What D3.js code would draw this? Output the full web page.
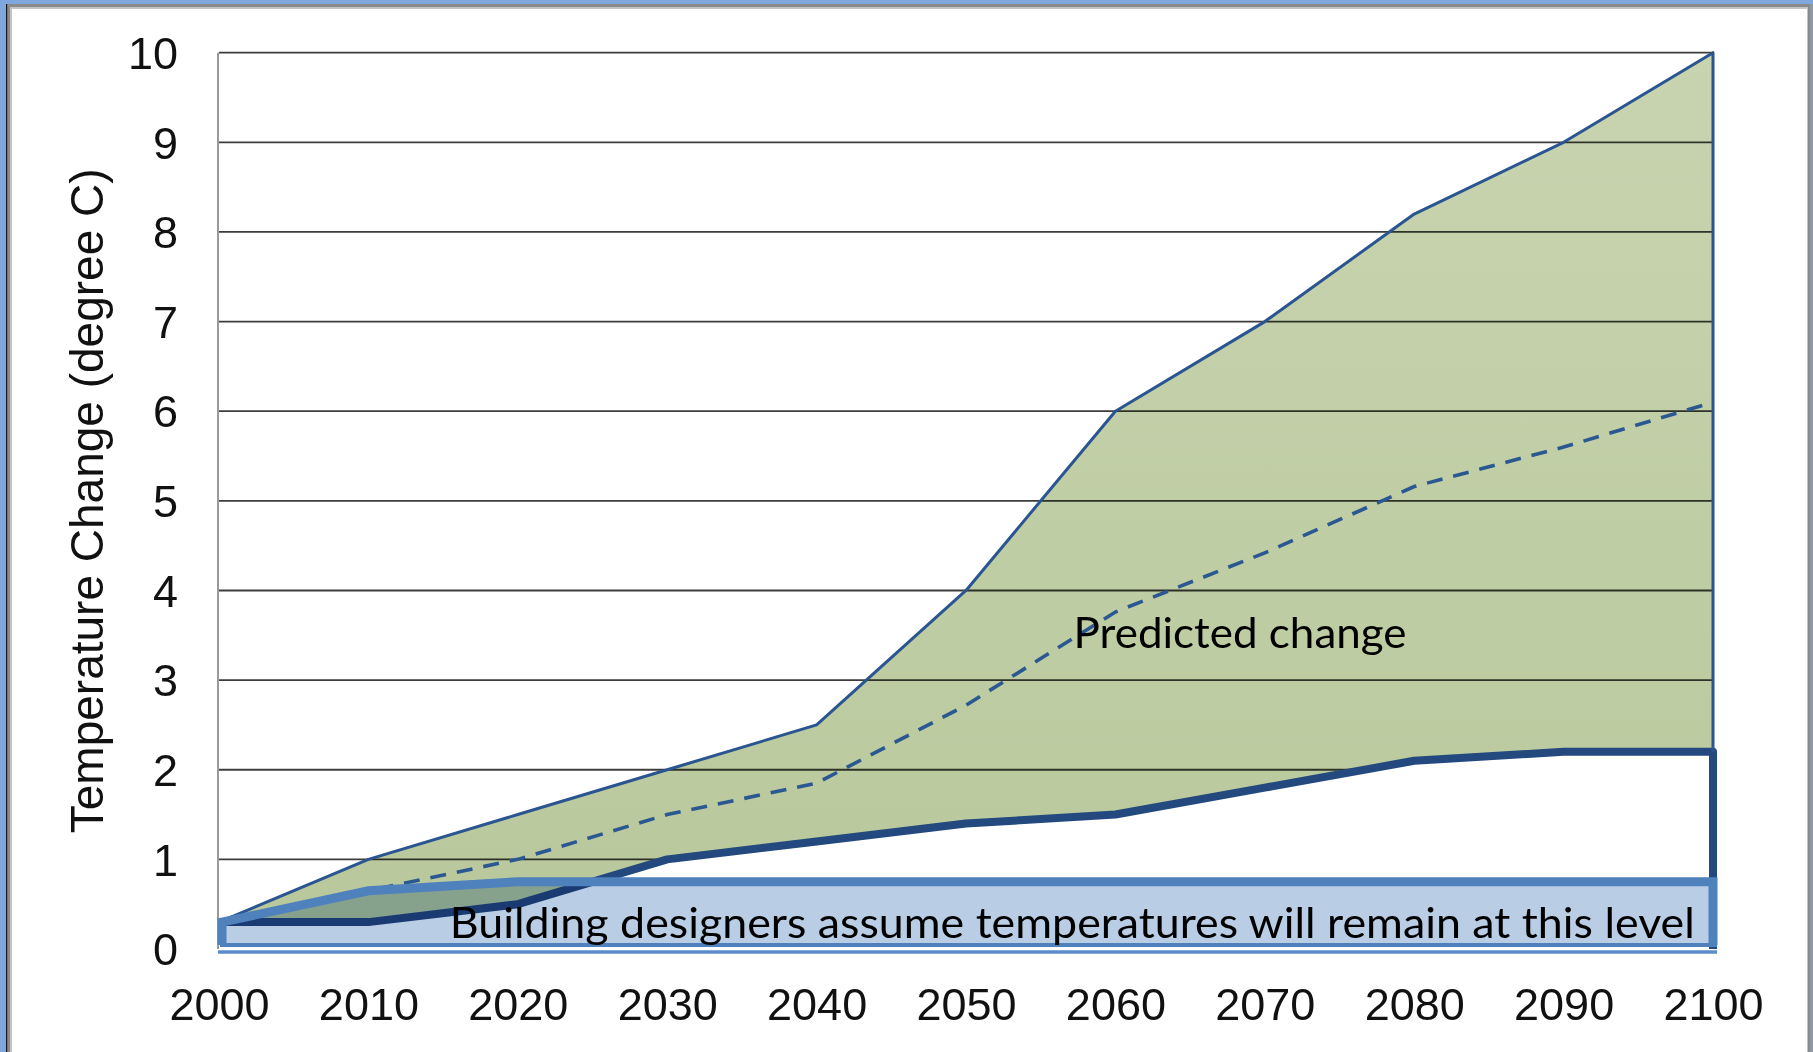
<!DOCTYPE html>
<html><head><meta charset="utf-8">
<script src="https://cdn.jsdelivr.net/npm/d3@7/dist/d3.min.js"></script>
<style>
html,body{margin:0;padding:0;background:#7ea7de;}
svg{display:block;}
</style>
</head><body>
<svg id="chart" width="1813" height="1052"></svg>
<script>
// ---- data ----
const years = [2000, 2010, 2020, 2030, 2040, 2050, 2060, 2070, 2080, 2090, 2100];
const upperValues = [0.3, 1.0, 1.5, 2.0, 2.5, 4.0, 6.0, 7.0, 8.2, 9.0, 10.0];
const middleValues = [0.3, 0.65, 1.0, 1.5, 1.85, 2.72, 3.76, 4.42, 5.16, 5.6, 6.1];
const lowerValues = [0.3, 0.3, 0.5, 1.0, 1.2, 1.4, 1.5, 1.8, 2.1, 2.2, 2.2];
const assumedValues = [0.3, 0.65, 0.75, 0.75, 0.75, 0.75, 0.75, 0.75, 0.75, 0.75, 0.75];
const yTickValues = [0, 1, 2, 3, 4, 5, 6, 7, 8, 9, 10];
const yAxisTitle = "Temperature Change (degree C)";
const predictedLabel = "Predicted change";
const assumedLabel = "Building designers assume temperatures will remain at this level";

// ---- layout ----
const svg = d3.select("#chart");
const W = 1813, H = 1052;
const x = d3.scaleLinear().domain([2000, 2100]).range([219, 1713]);
const y = d3.scaleLinear().domain([0, 10]).range([949, 52.7]);

// frame
svg.append("rect").attr("x", 0).attr("y", 0).attr("width", W).attr("height", H).attr("fill", "#7ea7de");
svg.append("rect").attr("x", 6).attr("y", 4).attr("width", W - 6).attr("height", H - 4).attr("fill", "#8a8a8a");
svg.append("rect").attr("x", 6).attr("y", 4).attr("width", 1.2).attr("height", H - 4).attr("fill", "#1a1a1a");
svg.append("rect").attr("x", 10).attr("y", 7).attr("width", 1798).attr("height", H - 7).attr("fill", "#c4c4c4");
svg.append("rect").attr("x", 12).attr("y", 9).attr("width", 1795).attr("height", H - 9).attr("fill", "#ffffff");
svg.append("rect").attr("x", 1810).attr("y", 4).attr("width", 3).attr("height", H - 4).attr("fill", "#8d98a8");

const defs = svg.append("defs");
const grad = defs.append("linearGradient").attr("id", "greenGrad")
  .attr("gradientUnits", "userSpaceOnUse")
  .attr("x1", 0).attr("x2", 0).attr("y1", y(10)).attr("y2", y(0));
grad.append("stop").attr("offset", "0%").attr("stop-color", "#c8d4b0");
grad.append("stop").attr("offset", "100%").attr("stop-color", "#b8c89b");

const rows = years.map((yr, i) => ({
  year: yr, upper: upperValues[i], middle: middleValues[i], lower: lowerValues[i], assumed: assumedValues[i]
}));

// green predicted area (between lower and upper)
const greenArea = d3.area().x(d => x(d.year)).y0(d => y(d.lower)).y1(d => y(d.upper));
svg.append("path").datum(rows).attr("d", greenArea).attr("fill", "url(#greenGrad)");

// gridlines (multiply so they darken the green)
svg.append("g").selectAll("line").data(yTickValues.filter(v => v > 0)).join("line")
  .attr("x1", x(2000)).attr("x2", x(2100))
  .attr("y1", d => y(d)).attr("y2", d => y(d))
  .attr("stroke", "#3d3d3d").attr("stroke-width", 1.8)
  .style("mix-blend-mode", "multiply");

// white area below the lower bound
const whiteArea = d3.area().x(d => x(d.year)).y0(y(0)).y1(d => y(d.lower));
svg.append("path").datum(rows).attr("d", whiteArea).attr("fill", "#ffffff");

// y axis line
svg.append("line").attr("x1", 218).attr("x2", 218).attr("y1", y(10)).attr("y2", y(0))
  .attr("stroke", "#9a9a9a").attr("stroke-width", 2);

// lower bound thick line incl. right edge
const line = d3.line().x(d => d[0]).y(d => d[1]);
const lowerPts = rows.map(d => [x(d.year), y(d.lower)]).concat([[x(2100), y(0)]]);
svg.append("path").attr("d", line(lowerPts)).attr("fill", "none")
  .attr("stroke", "#23497e").attr("stroke-width", 8).attr("stroke-linejoin", "round");

// upper bound thin line incl. right edge
const upperPts = rows.map(d => [x(d.year), y(d.upper)]).concat([[x(2100), y(lowerValues[lowerValues.length - 1])]]);
svg.append("path").attr("d", line(upperPts)).attr("fill", "none")
  .attr("stroke", "#2a5590").attr("stroke-width", 3).attr("stroke-linejoin", "round");

// middle dashed
svg.append("path").attr("d", line(rows.map(d => [x(d.year), y(d.middle)]))).attr("fill", "none")
  .attr("stroke", "#2c5891").attr("stroke-width", 3.6).attr("stroke-dasharray", "16,11");

// assumed band
const bandPts = rows.map(d => [x(d.year), y(d.assumed)])
  .concat([[x(2100), y(0) - 4], [x(2000) + 3, y(0) - 4], [x(2000) + 3, y(assumedValues[0])]]);
svg.append("path").attr("d", line(bandPts) + "Z").attr("fill", "#b9cde5")
  .style("mix-blend-mode", "multiply");
const bandTopPts = [[x(2000) + 3, y(0) - 4], [x(2000) + 3, y(assumedValues[0])]]
  .concat(rows.slice(1).map(d => [x(d.year), y(d.assumed)]))
  .concat([[x(2100), y(0) - 4]]);
svg.append("path").attr("d", line(bandTopPts)).attr("fill", "none")
  .attr("stroke", "#4f81bd").attr("stroke-width", 9).attr("stroke-linejoin", "miter");
svg.append("line").attr("x1", x(2000) + 1).attr("x2", x(2100) + 4)
  .attr("y1", y(0) - 4).attr("y2", y(0) - 4).attr("stroke", "#4f81bd").attr("stroke-width", 4);
svg.append("line").attr("x1", x(2000) - 1).attr("x2", x(2100) + 4)
  .attr("y1", y(0) + 3).attr("y2", y(0) + 3).attr("stroke", "#5b8dcb").attr("stroke-width", 3.5);

// labels inside
svg.append("text").attr("x", x(2015.45)).attr("y", y(0.125))
  .attr("font-family", "Lato, 'Open Sans', sans-serif").attr("font-size", 43)
  .attr("textLength", 1245).attr("lengthAdjust", "spacingAndGlyphs")
  .attr("fill", "#000").text(assumedLabel);
svg.append("text").attr("x", x(2057.2)).attr("y", y(3.36))
  .attr("font-family", "Lato, 'Open Sans', sans-serif").attr("font-size", 43)
  .attr("textLength", 333).attr("lengthAdjust", "spacingAndGlyphs")
  .attr("fill", "#000").text(predictedLabel);

// axes labels
const yAxis = d3.axisLeft(y).tickValues(yTickValues).tickSize(0).tickPadding(40).tickFormat(d3.format("d"));
const gy = svg.append("g").attr("transform", "translate(218,0)").call(yAxis);
gy.select(".domain").remove();
gy.selectAll("text").attr("font-family", "'Liberation Sans', Arial, sans-serif")
  .attr("font-size", 45).attr("fill", "#111").attr("dy", "0.35em");

const xAxis = d3.axisBottom(x).tickValues(years).tickSize(0).tickPadding(0).tickFormat(d3.format("d"));
const gx = svg.append("g").attr("transform", "translate(0,1020)").call(xAxis);
gx.select(".domain").remove();
gx.selectAll("text").attr("font-family", "'Liberation Sans', Arial, sans-serif")
  .attr("font-size", 45).attr("fill", "#111").attr("dy", 0).attr("y", 0);

svg.append("text").attr("transform", `translate(103,${(y(0) + y(10)) / 2}) rotate(-90)`)
  .attr("text-anchor", "middle")
  .attr("font-family", "'Liberation Sans', Arial, sans-serif").attr("font-size", 46)
  .attr("fill", "#111").text(yAxisTitle);
</script>
</body></html>
